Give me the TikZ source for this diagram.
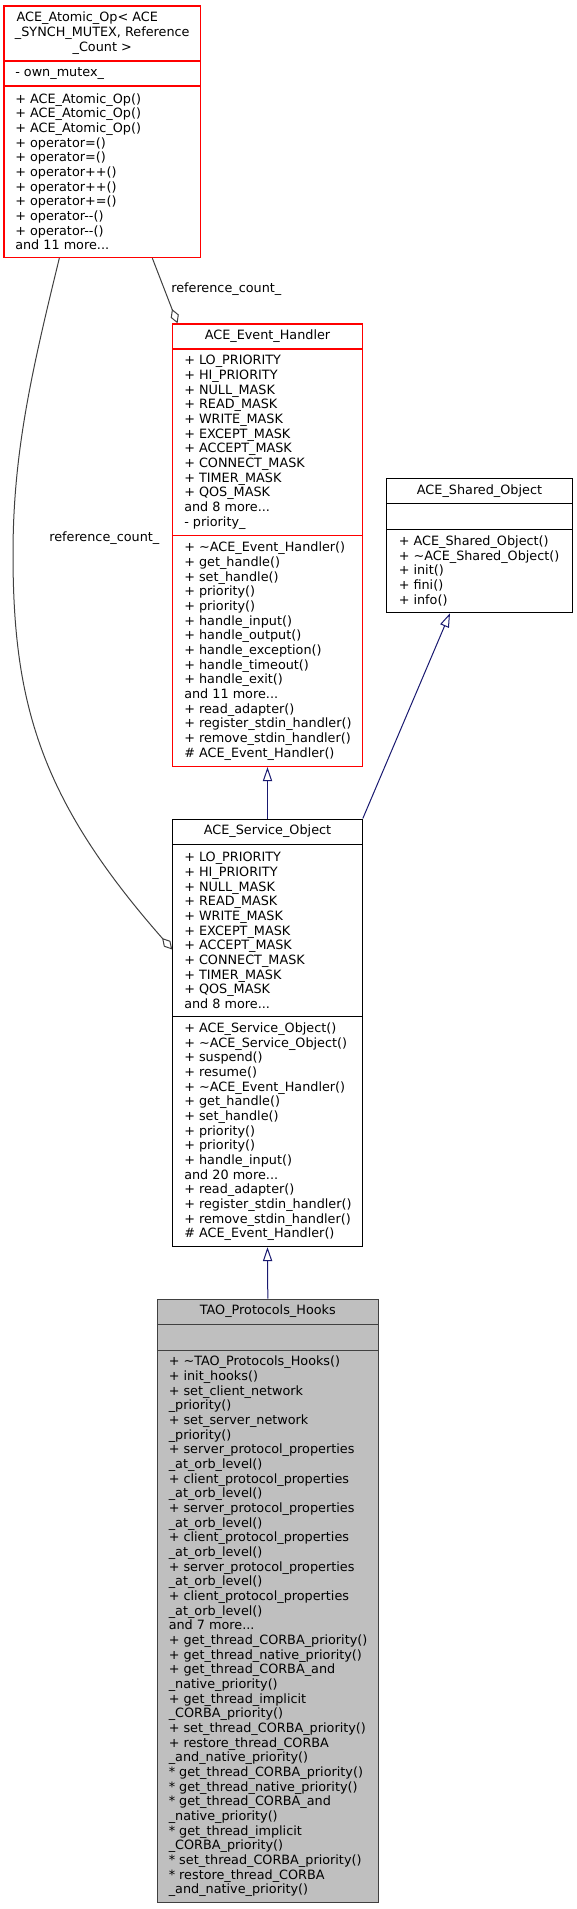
\documentclass[tikz,border=0pt]{standalone}
\usepackage{fontspec}
\setmainfont{DejaVu Sans}
\usetikzlibrary{arrows.meta,calc,fit}
\definecolor{doxred}{RGB}{255,0,0}
\definecolor{doxnavy}{RGB}{25,25,112}
\definecolor{doxgray}{RGB}{64,64,64}
\definecolor{doxfill}{RGB}{191,191,191}
\tikzset{
  clsred/.style={draw=doxred, line width=1pt, inner sep=0pt},
  clsplain/.style={draw=black, line width=0.75pt, inner sep=0pt},
  clsgray/.style={draw=doxgray, fill=doxfill, line width=0.75pt, inner sep=0pt},
  sepred/.style={doxred, line width=1pt},
  sepplain/.style={black, line width=0.75pt},
  sepgray/.style={doxgray, line width=0.75pt},
  memtext/.style={anchor=west, align=left, inner sep=0pt, font=\fontsize{9.6}{11}\selectfont},
  titletext/.style={align=center, inner sep=0pt, font=\fontsize{9.6}{11}\selectfont},
  reflabel/.style={anchor=west, inner sep=0pt, font=\fontsize{9.6}{11}\selectfont},
  inharr/.style={-{Triangle[open,length=10.5pt,width=7pt]}, doxnavy, line width=0.75pt},
  aggrarr/.style={-{Diamond[open,length=11.5pt,width=6.5pt]}, doxgray, line width=0.75pt}
}
\begin{document}
\begin{tikzpicture}[x=0.75pt,y=-0.75pt]
  \useasboundingbox (0,0) rectangle (577,1909);

  \node[clsred, fit={(4,6) (200.5,257.5)}] (atomic) {};
  \draw[sepred] (atomic.west |- 0,61) -- (atomic.east |- 0,61);
  \draw[sepred] (atomic.west |- 0,86) -- (atomic.east |- 0,86);
  \node[titletext] (atomictitle) at (102.25,33) {\mbox{ACE\_Atomic\_Op< ACE\hspace{22.5pt}}\\\_SYNCH\_MUTEX, Reference\\\_Count >};
  \node[memtext] (atomicattr) at (15,73.5) {- own\_mutex\_};
  \node[memtext] (atomicops) at (15,171.75) {+ ACE\_Atomic\_Op()\\+ ACE\_Atomic\_Op()\\+ ACE\_Atomic\_Op()\\+ operator=()\\+ operator=()\\+ operator++()\\+ operator++()\\+ operator+=()\\+ operator-{}-()\\+ operator-{}-()\\and 11 more...};

  \node[clsred, fit={(172.7,324) (362.3,766.5)}] (eh) {};
  \draw[sepred] (eh.west |- 0,349) -- (eh.east |- 0,349);
  \draw[sepred] (eh.west |- 0,535.7) -- (eh.east |- 0,535.7);
  \node[titletext] (ehtitle) at (267.5,336.5) {ACE\_Event\_Handler};
  \node[memtext] (ehattr) at (184,442.35) {+ LO\_PRIORITY\\+ HI\_PRIORITY\\+ NULL\_MASK\\+ READ\_MASK\\+ WRITE\_MASK\\+ EXCEPT\_MASK\\+ ACCEPT\_MASK\\+ CONNECT\_MASK\\+ TIMER\_MASK\\+ QOS\_MASK\\and 8 more...\\- priority\_};
  \node[memtext] (ehops) at (184,651.1) {+ \textasciitilde ACE\_Event\_Handler()\\+ get\_handle()\\+ set\_handle()\\+ priority()\\+ priority()\\+ handle\_input()\\+ handle\_output()\\+ handle\_exception()\\+ handle\_timeout()\\+ handle\_exit()\\and 11 more...\\+ read\_adapter()\\+ register\_stdin\_handler()\\+ remove\_stdin\_handler()\\\# ACE\_Event\_Handler()};

  \node[clsplain, fit={(386.7,478.3) (572.3,612.7)}] (shared) {};
  \draw[sepplain] (shared.west |- 0,503.3) -- (shared.east |- 0,503.3);
  \draw[sepplain] (shared.west |- 0,529) -- (shared.east |- 0,529);
  \node[titletext] (sharedtitle) at (479.5,490.8) {ACE\_Shared\_Object};
  \node[memtext] (sharedops) at (398.5,570.85) {+ ACE\_Shared\_Object()\\+ \textasciitilde ACE\_Shared\_Object()\\+ init()\\+ fini()\\+ info()};

  \node[clsplain, fit={(172.7,819) (362.3,1246.7)}] (service) {};
  \draw[sepplain] (service.west |- 0,844.3) -- (service.east |- 0,844.3);
  \draw[sepplain] (service.west |- 0,1016.7) -- (service.east |- 0,1016.7);
  \node[titletext] (servicetitle) at (267.5,831.6) {ACE\_Service\_Object};
  \node[memtext] (serviceattr) at (184,930.5) {+ LO\_PRIORITY\\+ HI\_PRIORITY\\+ NULL\_MASK\\+ READ\_MASK\\+ WRITE\_MASK\\+ EXCEPT\_MASK\\+ ACCEPT\_MASK\\+ CONNECT\_MASK\\+ TIMER\_MASK\\+ QOS\_MASK\\and 8 more...};
  \node[memtext] (serviceops) at (184,1131.7) {+ ACE\_Service\_Object()\\+ \textasciitilde ACE\_Service\_Object()\\+ suspend()\\+ resume()\\+ \textasciitilde ACE\_Event\_Handler()\\+ get\_handle()\\+ set\_handle()\\+ priority()\\+ priority()\\+ handle\_input()\\and 20 more...\\+ read\_adapter()\\+ register\_stdin\_handler()\\+ remove\_stdin\_handler()\\\# ACE\_Event\_Handler()};

  \node[clsgray, fit={(157.3,1299) (378.3,1902.7)}] (hooks) {};
  \draw[sepgray] (hooks.west |- 0,1324.3) -- (hooks.east |- 0,1324.3);
  \draw[sepgray] (hooks.west |- 0,1350) -- (hooks.east |- 0,1350);
  \node[titletext] (hookstitle) at (267.8,1311.6) {TAO\_Protocols\_Hooks};
  \node[memtext] (hooksops) at (168.5,1626.35) {+ \textasciitilde TAO\_Protocols\_Hooks()\\+ init\_hooks()\\+ set\_client\_network\\\_priority()\\+ set\_server\_network\\\_priority()\\+ server\_protocol\_properties\\\_at\_orb\_level()\\+ client\_protocol\_properties\\\_at\_orb\_level()\\+ server\_protocol\_properties\\\_at\_orb\_level()\\+ client\_protocol\_properties\\\_at\_orb\_level()\\+ server\_protocol\_properties\\\_at\_orb\_level()\\+ client\_protocol\_properties\\\_at\_orb\_level()\\and 7 more...\\+ get\_thread\_CORBA\_priority()\\+ get\_thread\_native\_priority()\\+ get\_thread\_CORBA\_and\\\_native\_priority()\\+ get\_thread\_implicit\\\_CORBA\_priority()\\+ set\_thread\_CORBA\_priority()\\+ restore\_thread\_CORBA\\\_and\_native\_priority()\\* get\_thread\_CORBA\_priority()\\* get\_thread\_native\_priority()\\* get\_thread\_CORBA\_and\\\_native\_priority()\\* get\_thread\_implicit\\\_CORBA\_priority()\\* set\_thread\_CORBA\_priority()\\* restore\_thread\_CORBA\\\_and\_native\_priority()};

  \draw[inharr] (service.north) -- (eh.south);
  \draw[inharr] (service.north east) -- ($(shared.south)+(-29.5,0)$);
  \draw[inharr] (hooks.north) -- (service.south);

  \draw[aggrarr] ($(atomic.south west)+(149,0)$) -- ($(eh.north west)+(5.5,0)$);
  \node[reflabel] (refcounta) at (171,289) {reference\_count\_};
  \draw[aggrarr] ($(atomic.south west)+(56,0)$) .. controls (31,374) and (13,454) .. (13,554) .. controls (13,704) and (40.7,800) .. ($(service.north west)+(0,131)$);
  \node[reflabel] (refcountb) at (49,538.5) {reference\_count\_};
\end{tikzpicture}
\end{document}
